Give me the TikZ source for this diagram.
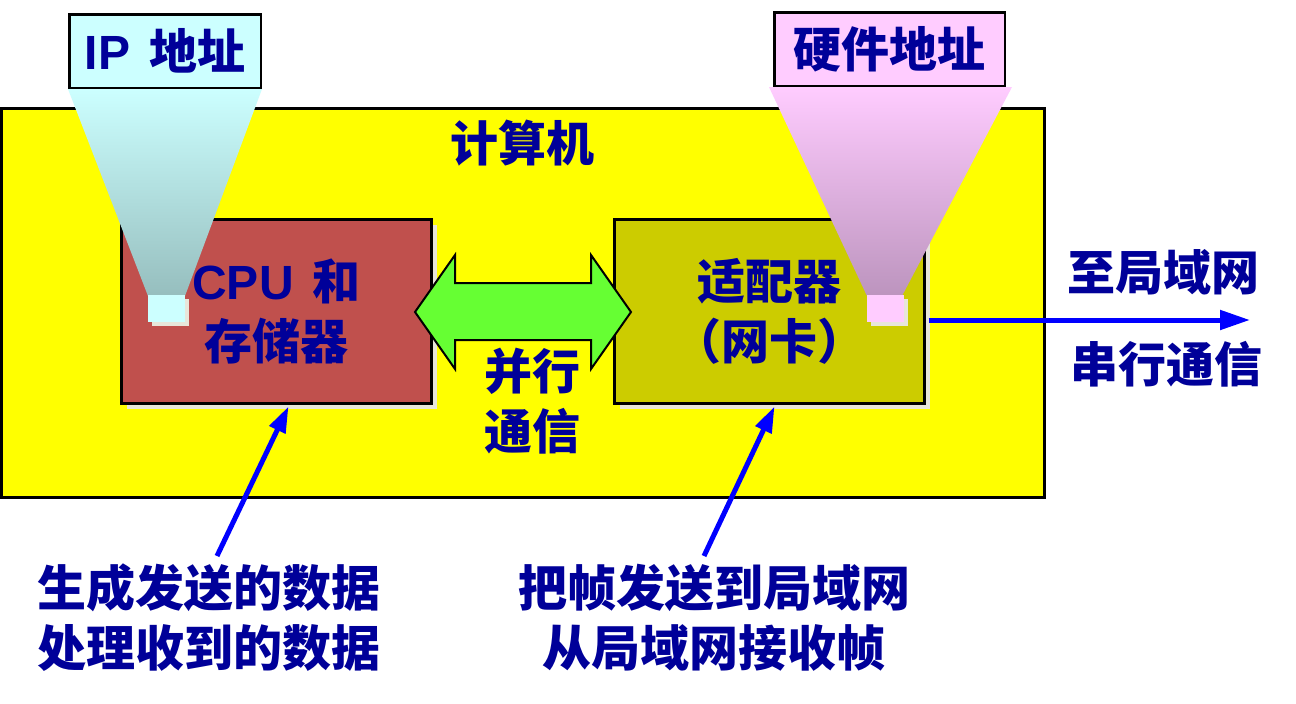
\documentclass[tikz,border=0pt]{standalone}
\usepackage{fontspec}
\newfontfamily\cjk{Noto Sans CJK SC}
\newfontfamily\lat{Liberation Sans}
\usetikzlibrary{arrows.meta,shadows}
\definecolor{txt}{HTML}{000099}
\definecolor{compc}{HTML}{FFFF00}
\definecolor{cpuc}{HTML}{C0504D}
\definecolor{adc}{HTML}{CCCC00}
\definecolor{shc}{HTML}{E8E6DA}
\definecolor{ipTop}{HTML}{CCFFFF}
\definecolor{ipBot}{HTML}{96BEBE}
\definecolor{hwTop}{HTML}{FFCCFF}
\definecolor{hwBot}{HTML}{BC94BE}
\definecolor{arrg}{HTML}{66FF33}
\definecolor{bluec}{HTML}{0000FF}
\begin{document}
\begin{tikzpicture}[x=1pt,y=-1pt,
  every node/.style={font=\cjk\bfseries\fontsize{48}{60}\selectfont, text=txt, inner sep=0pt, outer sep=0pt, align=center},
  unitbox/.style={draw=black, line width=3pt, minimum width=310pt, minimum height=184pt, anchor=north west,
     drop shadow={shadow xshift=5pt, shadow yshift=-5pt, fill=shc, opacity=1}},
  tagbox/.style={draw=black, line width=2.5pt, anchor=north west, minimum height=73.5pt},
  chip/.style={minimum width=37pt, minimum height=27pt, anchor=north west,
     drop shadow={shadow xshift=4pt, shadow yshift=-4pt, fill=shc, opacity=1}},
  bluearrow/.style={draw=bluec, line width=5pt, -{Triangle[length=26pt,width=17pt]}},
  note/.style={font=\cjk\bfseries\fontsize{49}{60}\selectfont}
]
\useasboundingbox (0,0) rectangle (1296,704);
\fill[white] (0,0) rectangle (1296,704);

% computer
\node[draw=black, line width=3pt, fill=compc, minimum width=1043pt, minimum height=389pt, anchor=north west] (comp) at (1.5,108.5) {};
\node (complabel) at (522,143) {计算机};

% units
\node[unitbox, fill=cpuc] (cpu) at (121.5,219.5) {{\lat CPU}\, 和\\存储器};
\node[unitbox, fill=adc] (adapter) at (614.5,219.5) {适配器\\（网卡）};

% double arrow
\draw[fill=arrg, line width=2pt, line join=miter] (415,312) -- (455,255) -- (455,283) -- (591,283) -- (591,255) -- (631,312) -- (591,369) -- (591,340) -- (455,340) -- (455,369) -- cycle;
\node (par) at (532,401) {并行\\通信};

% cones
\shade[top color=ipTop, bottom color=ipBot] (68,89) -- (262,89) -- (185,296) -- (148,296) -- cycle;
\shade[top color=hwTop, bottom color=hwBot] (769,87) -- (1012,87) -- (902,296) -- (867,296) -- cycle;
\node[chip, fill=ipTop] (ipchip) at (148,295) {};
\node[chip, fill=hwTop] (hwchip) at (867,295) {};

% tags
\node[tagbox, fill=ipTop, minimum width=191.5pt] (iptag) at (69.25,14.25) {};
\node at (iptag.center) {{\lat IP}\, 地址};
\node[tagbox, fill=hwTop, minimum width=230.5pt] (hwtag) at (774.25,12.25) {};
\node at (hwtag.center) {硬件地址};

% LAN link
\coordinate (lanend) at (1250,320);
\draw[draw=bluec, line width=5pt, -{Triangle[length=30pt,width=19pt]}] ([xshift=4pt]adapter.east |- lanend) -- (lanend);
\node (lan1) at (1163,272) {至局域网};
\node (lan2) at (1166,364) {串行通信};

% bottom notes
\node[note] (n1) at (209,618) {生成发送的数据\\处理收到的数据};
\node[note] (n2) at (714,618) {把帧发送到局域网\\从局域网接收帧};
\coordinate (s1) at (217,556);
\coordinate (s2) at (704,556);
\draw[bluearrow] (s1) -- ([xshift=12pt,yshift=-3pt]cpu.south);
\draw[bluearrow] (s2) -- ([xshift=5pt,yshift=-3pt]adapter.south);
\end{tikzpicture}
\end{document}
